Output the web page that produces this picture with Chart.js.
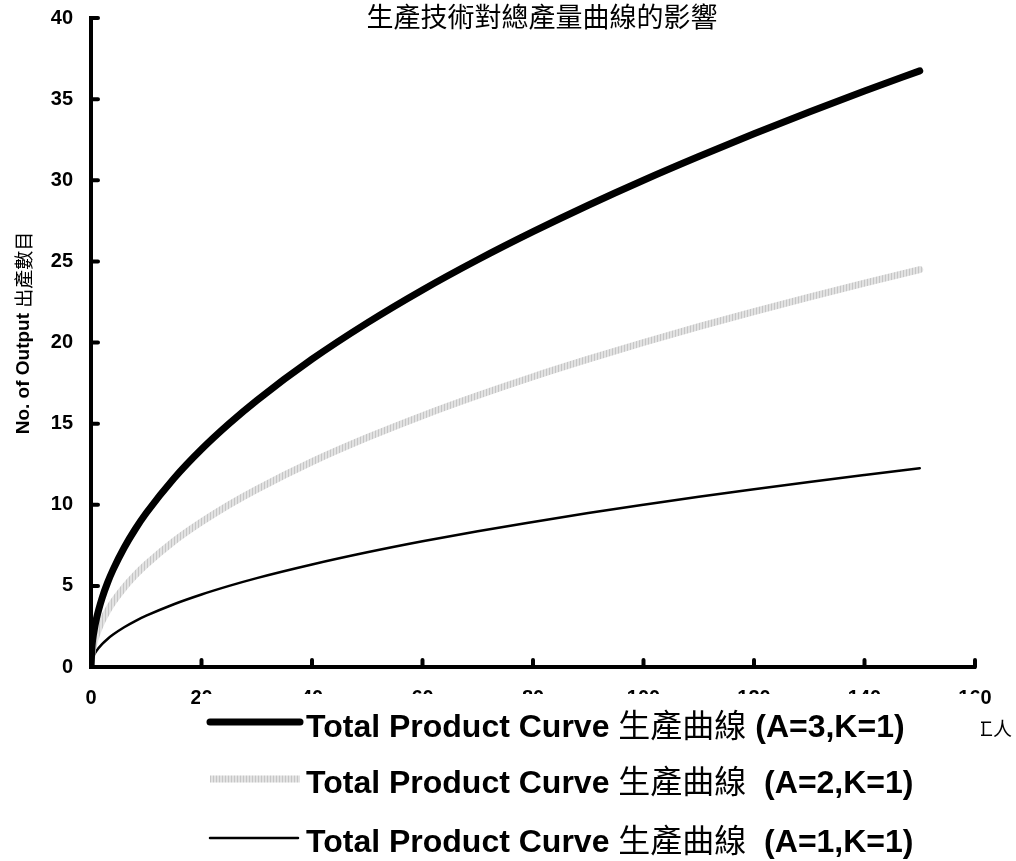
<!DOCTYPE html>
<html>
<head>
<meta charset="utf-8">
<script src="https://cdn.jsdelivr.net/npm/chart.js@4.4.1/dist/chart.umd.min.js"></script>
<style>
  html, body { margin: 0; padding: 0; background: #fff; }
  #c { display: block; }
</style>
</head>
<body>
<canvas id="c" width="1016" height="861" style="width:1016px;height:861px"></canvas>
<script>
// 勞動投入 (工人) 與三條生產曲線的讀值
const labour   = [0, 0.2, 0.5, 1, 2, 3, 4, 6, 8, 10, 15, 20, 25, 30, 40, 50, 60, 70, 80, 90, 100, 110, 120, 130, 140, 150];
const outputA3 = [0, 1.34, 2.12, 3, 4.24, 5.2, 6, 7.35, 8.49, 9.49, 11.62, 13.42, 15, 16.43, 18.97, 21.21, 23.24, 25.1, 26.83, 28.46, 30, 31.46, 32.86, 34.21, 35.5, 36.74];
const outputA2 = [0, 0.89, 1.41, 2, 2.83, 3.46, 4, 4.9, 5.66, 6.32, 7.75, 8.94, 10, 10.95, 12.65, 14.14, 15.49, 16.73, 17.89, 18.97, 20, 20.98, 21.91, 22.8, 23.66, 24.49];
const outputA1 = [0, 0.45, 0.71, 1, 1.41, 1.73, 2, 2.45, 2.83, 3.16, 3.87, 4.47, 5, 5.48, 6.32, 7.07, 7.75, 8.37, 8.94, 9.49, 10, 10.49, 10.95, 11.4, 11.83, 12.25];
const seriesTags = ['(A=3,K=1)', ' (A=2,K=1)', ' (A=1,K=1)'];
const xTicks = [0, 20, 40, 60, 80, 100, 120, 140, 160];
const yTicks = [0, 5, 10, 15, 20, 25, 30, 35, 40];

const LATIN = '"Liberation Sans", Arial, sans-serif';
const CJK = '"Noto Sans CJK TC", "Noto Sans CJK SC", sans-serif';

// 灰色曲線的條紋質感
function greyStripe() {
  const p = document.createElement('canvas');
  p.width = 3; p.height = 1;
  const g = p.getContext('2d');
  g.fillStyle = '#e2e2e2'; g.fillRect(0, 0, 3, 1);
  g.fillStyle = '#c6c6c6'; g.fillRect(0, 0, 1, 1);
  return g.createPattern(p, 'repeat');
}
const grey = greyStripe();

const pts = arr => labour.map((x, i) => ({ x, y: arr[i] }));

// 逐段畫文字 (粗體英文 + 一般中文)
function drawParts(ctx, parts, x, y) {
  for (const [t, f] of parts) {
    ctx.font = f;
    ctx.fillText(t, x, y);
    x += ctx.measureText(t).width;
  }
}
function partsWidth(ctx, parts) {
  let w = 0;
  for (const [t, f] of parts) { ctx.font = f; w += ctx.measureText(t).width; }
  return w;
}

const decor = {
  id: 'decor',
  afterDraw(chart) {
    const { ctx, chartArea: a, scales: { x, y } } = chart;
    ctx.save();

    // 向內的刻度
    ctx.strokeStyle = '#000';
    ctx.lineWidth = 4;
    ctx.lineCap = 'round';
    ctx.beginPath();
    yTicks.forEach(v => {
      const py = y.getPixelForValue(v);
      ctx.moveTo(a.left, py); ctx.lineTo(a.left + 7, py);
    });
    xTicks.forEach(v => {
      const px = x.getPixelForValue(v);
      ctx.moveTo(px, a.bottom); ctx.lineTo(px, a.bottom - 7);
    });
    ctx.stroke();

    ctx.fillStyle = '#000';

    // 標題
    ctx.font = '27px ' + CJK;
    ctx.textAlign = 'center';
    ctx.textBaseline = 'middle';
    ctx.fillText('生產技術對總產量曲線的影響', 542, 17);

    // Y 軸標題
    const yParts = [['No. of Output ', 'bold 19px ' + LATIN], ['出產數目', '19px ' + CJK]];
    ctx.save();
    ctx.translate(24, 333);
    ctx.rotate(-Math.PI / 2);
    ctx.textAlign = 'left';
    drawParts(ctx, yParts, -partsWidth(ctx, yParts) / 2, 0);
    ctx.restore();

    // X 軸標題
    ctx.textAlign = 'left';
    ctx.font = '19px ' + CJK;
    ctx.fillText('工人', 974, 729);

    // 圖例方塊 (蓋住部分刻度文字)
    ctx.fillStyle = '#fff';
    ctx.fillRect(200, 694, 781, 861 - 694);

    const rows = [722, 779, 838];
    const bases = [737, 793, 852];
    chart.data.datasets.forEach((ds, i) => {
      ctx.strokeStyle = ds.borderColor;
      ctx.lineWidth = ds.borderWidth;
      ctx.lineCap = i === 1 ? 'butt' : 'round';
      ctx.beginPath();
      ctx.moveTo(210, rows[i]);
      ctx.lineTo(i === 2 ? 298 : 300, rows[i]);
      ctx.stroke();
      ctx.fillStyle = '#000';
      ctx.textBaseline = 'alphabetic';
      drawParts(ctx, [
        ['Total Product Curve ', 'bold 32px ' + LATIN],
        ['生產曲線', '32px ' + CJK],
        [' ' + seriesTags[i], 'bold 32px ' + LATIN]
      ], 306, bases[i]);
    });

    ctx.restore();
  }
};

const tickFont = { family: LATIN, size: 20, weight: 'bold' };

new Chart(document.getElementById('c'), {
  type: 'line',
  data: {
    datasets: [
      { label: 'A=3', data: pts(outputA3), borderColor: '#000', borderWidth: 7 },
      { label: 'A=2', data: pts(outputA2), borderColor: grey, borderWidth: 7 },
      { label: 'A=1', data: pts(outputA1), borderColor: '#000', borderWidth: 2.5 }
    ].map(d => Object.assign(d, {
      pointRadius: 0, fill: false, cubicInterpolationMode: 'monotone',
      borderCapStyle: 'round', borderJoinStyle: 'round'
    }))
  },
  options: {
    responsive: false,
    animation: false,
    layout: { padding: { top: 18, right: 41, left: 0, bottom: 0 } },
    plugins: { legend: { display: false }, title: { display: false }, tooltip: { enabled: false } },
    scales: {
      x: {
        type: 'linear', min: 0, max: 160,
        ticks: { stepSize: 20, color: '#000', font: tickFont, padding: 19, maxRotation: 0, autoSkip: false },
        grid: { drawOnChartArea: false, drawTicks: false },
        border: { display: true, width: 4, color: '#000' },
        afterFit(s) { s.height = 194; s.paddingLeft = 0; s.paddingRight = 0; }
      },
      y: {
        min: 0, max: 40,
        ticks: { stepSize: 5, color: '#000', font: tickFont, padding: 18 },
        grid: { drawOnChartArea: false, drawTicks: false },
        border: { display: true, width: 4, color: '#000' },
        afterFit(s) { s.width = 91; s.paddingTop = 0; s.paddingBottom = 0; }
      }
    }
  },
  plugins: [decor]
});
</script>
</body>
</html>
